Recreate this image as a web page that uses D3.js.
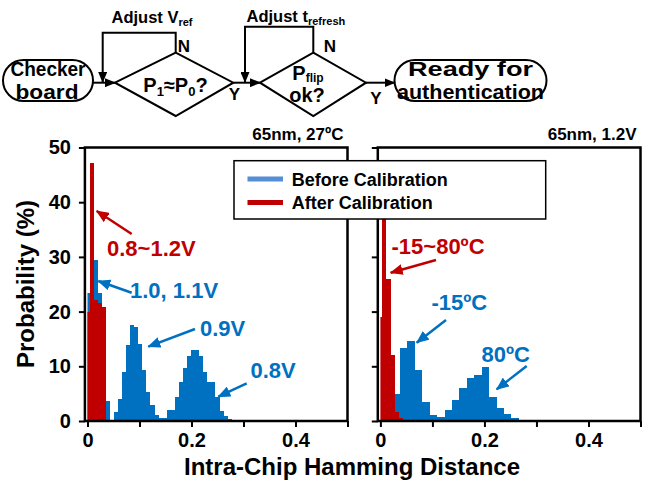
<!DOCTYPE html>
<html>
<head>
<meta charset="utf-8">
<script src="https://cdn.jsdelivr.net/npm/d3@7"></script>
<style>
body { margin: 0; background: #fff; }
svg text { font-family: "Liberation Sans", Arial, sans-serif; font-weight: bold; }
</style>
</head>
<body>
<div id="mainContainer"></div>
<script>
'use strict';

var svgWidth = 654,
    svgHeight = 489,
    blue = 'rgb(0,112,192)',
    red = 'rgb(192,0,0)',
    legendBlue = 'rgb(85,142,213)';

// axes
var xTicks = [0, 0.1, 0.2, 0.3, 0.4, 0.5];
var xTickLabels = ['0', '', '0.2', '', '0.4', ''];
var yTicks = [0, 10, 20, 30, 40, 50];

// left panel (65nm, 27C): bins of 1/128, centred on k/128, values in %
var binV = 1 / 128;
var before11V = [23.4, 26.0, 29.4, 23.4, 15.0, 3.6];                    // k = 0..5
var before09V = [1.7, 4.1, 9.0, 13.9, 17.5, 17.2, 14.0, 9.3, 5.3, 2.9, 1.1, 0.5, 0.5];   // k = 7..19
var before08V = [2.0, 2.0, 4.3, 7.2, 9.6, 11.9, 12.9, 12.9, 11.9, 9.0, 7.2, 7.2, 4.4, 1.8, 1.0, 0.4]; // k = 20..35
var afterV = [20.0, 47.2, 22.2, 21.5, 20.9];                              // k = 0..4

// right panel (65nm, 1.2V)
var afterT = [19.0, 44.0, 26.0, 12.0, 1.7, 0.5];                          // 1/128 bins, k = 0..5
var binT = 1 / 70;
var beforeM15 = [5.0, 13.3, 14.6, 9.4, 3.5, 1.1, 0.7];                    // from 0.0233
var before80 = [2.0, 3.9, 6.1, 7.8, 8.4, 9.9, 4.4, 2.4, 1.3, 0.5, 0.2];  // follows -15C

var svg = d3.select('#mainContainer')
    .append('svg')
    .attr('width', svgWidth)
    .attr('height', svgHeight);

var defs = svg.append('defs');

function marker(name, colour, len, wid) {
    defs.append('marker')
        .attr('id', name)
        .attr('markerUnits', 'userSpaceOnUse')
        .attr('viewBox', '0 0 ' + len + ' ' + wid)
        .attr('markerWidth', len)
        .attr('markerHeight', wid)
        .attr('refX', len - 1)
        .attr('refY', wid / 2)
        .attr('orient', 'auto')
        .append('path')
        .attr('d', 'M0,0L' + len + ',' + (wid / 2) + 'L0,' + wid + 'Z')
        .attr('fill', colour);
}
marker('headRed', red, 13, 11);
marker('headBlue', blue, 13, 11);
marker('headBlack', '#000', 11, 9);

// ---------- flow chart ----------
var flow = svg.append('g')
    .attr('fill', 'none')
    .attr('stroke', '#000')
    .attr('stroke-width', 2);

flow.append('rect').attr('x', 3).attr('y', 60).attr('width', 90).attr('height', 41).attr('rx', 20.5);
flow.append('rect').attr('x', 394.5).attr('y', 60).attr('width', 152).attr('height', 41).attr('rx', 20.5);
flow.append('path').attr('d', 'M115,82.7L175.7,52.7L233.3,82.7L175.7,116Z');
flow.append('path').attr('d', 'M260,82.7L313.3,52.7L366,82.7L313.3,116Z');
flow.append('path').attr('d', 'M93,82.7H115').attr('marker-end', 'url(#headBlack)');
flow.append('path').attr('d', 'M233.3,82.7H260').attr('marker-end', 'url(#headBlack)');
flow.append('path').attr('d', 'M366,82.7H394.5').attr('marker-end', 'url(#headBlack)');
flow.append('path').attr('d', 'M175.7,52.7V32.7H102.7V82').attr('marker-end', 'url(#headBlack)');
flow.append('path').attr('d', 'M313.3,52.7V26.7H245V82').attr('marker-end', 'url(#headBlack)');

function flowText(x, y, size, anchor) {
    return svg.append('text')
        .attr('x', x).attr('y', y)
        .attr('font-size', size)
        .attr('text-anchor', anchor || 'middle');
}
function fitted(x, y, size, len, str) {
    return flowText(x, y, size)
        .attr('textLength', len)
        .attr('lengthAdjust', 'spacingAndGlyphs')
        .text(str);
}
fitted(48, 76, 21, 75, 'Checker');
fitted(47, 98.5, 21, 63, 'board');
fitted(470.5, 76, 21, 125, 'Ready for');
fitted(470.5, 98.5, 21, 147, 'authentication');
flowText(184, 52, 17).text('N');
flowText(330, 52, 17).text('N');
flowText(234.5, 100, 17).text('Y');
flowText(376, 104, 17).text('Y');

var t1 = flowText(111.5, 23, 16.5, 'start');
t1.append('tspan').text('Adjust V');
t1.append('tspan').attr('font-size', 11).attr('dy', 3).text('ref');

var t2 = flowText(246.5, 22, 16.5, 'start');
t2.append('tspan').text('Adjust t');
t2.append('tspan').attr('font-size', 11).attr('dy', 3).text('refresh');

var t3 = flowText(175.5, 92, 20);
t3.append('tspan').text('P');
t3.append('tspan').attr('font-size', 13).attr('dy', 4).text('1');
t3.append('tspan').attr('dy', -4).text('\u2248P');
t3.append('tspan').attr('font-size', 13).attr('dy', 4).text('0');
t3.append('tspan').attr('dy', -4).text('?');

var t4 = flowText(308, 80, 20);
t4.append('tspan').text('P');
t4.append('tspan').attr('font-size', 12).attr('dy', 2).text('flip');
flowText(307, 101.5, 20).text('ok?');

// ---------- histograms ----------
var y = d3.scaleLinear().domain([0, 50]).range([421, 147.5]);

var panels = [
    { left: 84.9, right: 347.5, title: '65nm, 27\u00baC', yLabels: true },
    { left: 377.8, right: 640.5, title: '65nm, 1.2V', yLabels: false }
];

panels.forEach(function (p, i) {
    p.x = d3.scaleLinear().domain([-0.005, 0.5]).range([p.left, p.right]);
    p.g = svg.append('g');
    defs.append('clipPath').attr('id', 'clip' + i)
        .append('rect')
        .attr('x', p.x(0)).attr('y', y(50))
        .attr('width', p.x(0.5) - p.x(0)).attr('height', y(0) - y(50));
    p.bars = p.g.append('g')
        .attr('clip-path', 'url(#clip' + i + ')')
        .attr('shape-rendering', 'crispEdges');
});

function drawBars(p, values, start, w, colour) {
    var edge = function (i) { return Math.round(p.x(start + i * w)); };
    p.bars.append('g')
        .selectAll('rect')
        .data(values)
        .enter()
        .append('rect')
        .attr('x', function (d, i) { return edge(i); })
        .attr('width', function (d, i) { return edge(i + 1) - edge(i); })
        .attr('y', function (d) { return Math.round(y(d)); })
        .attr('height', function (d) { return Math.round(y(0)) - Math.round(y(d)); })
        .attr('fill', colour);
}

var L = panels[0], R = panels[1];
drawBars(L, before11V, -0.5 * binV, binV, blue);
drawBars(L, before09V, 6.5 * binV, binV, blue);
drawBars(L, before08V, 19.5 * binV, binV, blue);
drawBars(L, afterV, -0.5 * binV, binV, red);

drawBars(R, beforeM15, 0.0233, binT, blue);
drawBars(R, before80, 0.0233 + beforeM15.length * binT, binT, blue);
drawBars(R, afterT, -0.5 * binV, binV, red);

panels.forEach(function (p) {
    var xAxis = d3.axisBottom(p.x)
        .tickValues(xTicks)
        .tickSize(6)
        .tickPadding(6)
        .tickFormat(function (d, i) { return xTickLabels[i]; });
    var gx = p.g.append('g').attr('transform', 'translate(0,' + y(0) + ')').call(xAxis);

    var yAxis = d3.axisLeft(y)
        .tickValues(yTicks)
        .tickSize(6)
        .tickPadding(8)
        .tickFormat(p.yLabels ? d3.format('d') : function () { return ''; });
    var gy = p.g.append('g').attr('transform', 'translate(' + p.left + ',0)').call(yAxis);

    [gx, gy].forEach(function (a) {
        a.select('.domain').remove();
        a.selectAll('line').attr('stroke', '#000').attr('stroke-width', 2);
        a.selectAll('text')
            .attr('font-size', 20)
            .attr('fill', '#000')
            .style('font-family', '"Liberation Sans", Arial, sans-serif')
            .style('font-weight', 'bold');
    });

    p.g.append('rect')
        .attr('x', p.left).attr('y', y(50))
        .attr('width', p.right - p.left).attr('height', y(0) - y(50))
        .attr('fill', 'none')
        .attr('stroke', '#000')
        .attr('stroke-width', 2.5);

    p.g.append('text')
        .attr('x', p.right - 4).attr('y', 140)
        .attr('text-anchor', 'end')
        .attr('font-size', 17)
        .text(p.title);
});

// annotations
var notes = [
    { text: '0.8~1.2V', x: 107, y: 256, colour: red, from: [131.7, 234], to: [96.7, 211] },
    { text: '1.0, 1.1V', x: 130, y: 298, colour: blue, from: [131.7, 292.7], to: [98.3, 281] },
    { text: '0.9V', x: 200, y: 336, colour: blue, from: [195, 329], to: [148.3, 346.7] },
    { text: '0.8V', x: 250.5, y: 378, colour: blue, from: [246.7, 383.3], to: [218.3, 396.7] },
    { text: '-15~80\u00baC', x: 391.5, y: 254, colour: red, from: [436, 260], to: [390.7, 272.7] },
    { text: '-15\u00baC', x: 431.5, y: 310, colour: blue, from: [446, 320], to: [416.7, 342.7] },
    { text: '80\u00baC', x: 481.5, y: 362, colour: blue, from: [526.7, 366], to: [496.7, 389.3] }
];

notes.forEach(function (n) {
    svg.append('line')
        .attr('x1', n.from[0]).attr('y1', n.from[1])
        .attr('x2', n.to[0]).attr('y2', n.to[1])
        .attr('stroke', n.colour)
        .attr('stroke-width', 2.5)
        .attr('marker-end', n.colour === red ? 'url(#headRed)' : 'url(#headBlue)');
    svg.append('text')
        .attr('x', n.x).attr('y', n.y)
        .attr('font-size', 22)
        .attr('fill', n.colour)
        .text(n.text);
});

// legend
var legend = svg.append('g');
legend.append('rect')
    .attr('x', 234).attr('y', 160.7)
    .attr('width', 311.7).attr('height', 58.3)
    .attr('fill', '#fff')
    .attr('stroke', '#000')
    .attr('stroke-width', 1.5);

[['Before Calibration', legendBlue, 179], ['After Calibration', red, 202.5]].forEach(function (item) {
    legend.append('line')
        .attr('x1', 247.5).attr('x2', 283)
        .attr('y1', item[2]).attr('y2', item[2])
        .attr('stroke', item[1])
        .attr('stroke-width', 5);
    legend.append('text')
        .attr('x', 291.7).attr('y', item[2] + 6.5)
        .attr('font-size', 18)
        .text(item[0]);
});

// axis titles
svg.append('text')
    .attr('transform', 'translate(34,284) rotate(-90)')
    .attr('text-anchor', 'middle')
    .attr('font-size', 24)
    .text('Probability (%)');

svg.append('text')
    .attr('x', 352).attr('y', 475)
    .attr('text-anchor', 'middle')
    .attr('font-size', 24)
    .text('Intra-Chip Hamming Distance');
</script>
</body>
</html>
